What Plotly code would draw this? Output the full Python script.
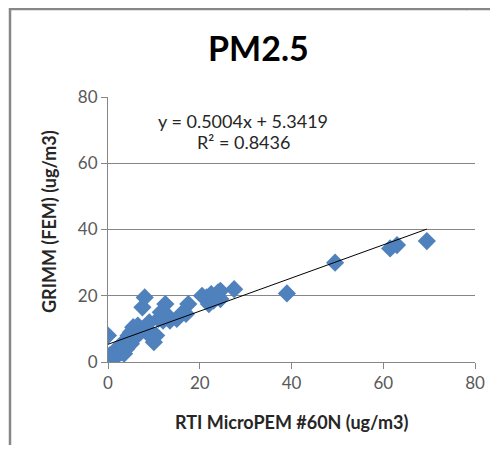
import plotly.graph_objects as go

# Data
micropem_x = [0.0, 0.3, 0.8, 1.2, 1.5, 2.0, 2.5, 3.0, 3.0, 3.5, 4.0, 4.0, 4.5, 5.0, 5.0,
              5.5, 6.0, 6.5, 7.0, 7.5, 8.0, 8.5, 9.0, 9.5, 10.0, 10.5, 11.0, 11.5, 12.0,
              12.5, 13.0, 13.5, 15.0, 16.0, 17.5, 17.0, 20.5, 21.5, 22.0, 22.5, 23.0,
              24.0, 24.5, 24.5, 27.5, 39.0, 49.5, 61.5, 63.0, 69.5]
grimm_y = [8.0, 2.0, 1.5, 3.0, 1.2, 2.5, 4.0, 3.0, 5.5, 2.5, 6.5, 4.0, 8.0, 5.5, 9.0,
           10.5, 7.5, 11.0, 9.0, 16.5, 19.5, 10.0, 12.0, 7.5, 6.0, 8.0, 13.0, 15.0, 12.5,
           17.5, 14.0, 12.5, 13.0, 14.5, 17.5, 14.5, 20.0, 19.5, 17.5, 20.5, 18.5,
           21.0, 21.5, 19.0, 22.0, 20.7, 30.0, 34.3, 35.3, 36.5]
fit_slope = 0.5004
fit_intercept = 5.3419
fit_r2 = 0.8436
tick_vals = [0, 20, 40, 60, 80]

# page body has an 8px margin, so the figure is drawn 8px right and down
OFF = 8
W, H = 499 - 2 * OFF, 453 - 2 * OFF
# target plot area in page pixels: x 108..475, y 97..362
ML = 108 - OFF
MR = W + OFF - 475
MT = 97 - OFF
MB = H + OFF - 362
PW, PH = W - ML - MR, H - MT - MB

FONT = "Lato"
fig = go.Figure()
fig.add_trace(go.Scatter(
    x=micropem_x, y=grimm_y, mode="markers",
    marker=dict(symbol="diamond", size=14, color="#4F81BD", line=dict(width=0)),
    showlegend=False))

x_lo, x_hi = min(micropem_x), max(micropem_x)
fig.add_trace(go.Scatter(
    x=[x_lo, x_hi], y=[fit_slope * x_lo + fit_intercept, fit_slope * x_hi + fit_intercept],
    mode="lines", line=dict(color="black", width=1), showlegend=False))

axis_common = dict(range=[0, 80], tickvals=tick_vals, ticks="outside", ticklen=6,
                   tickcolor="#868686", showline=True, linecolor="#868686", linewidth=1,
                   tickfont=dict(family=FONT, size=17, color="#595959"), zeroline=False,
                   automargin=False)
fig.update_xaxes(**axis_common, showgrid=False)
fig.update_yaxes(**axis_common, showgrid=True, gridcolor="#868686", gridwidth=1)


def px_x(p):
    return (p - OFF - ML) / PW


def px_y(p):
    return (H - MB - (p - OFF)) / PH


def label(x, y, text, size, color="#262626", angle=0):
    fig.add_annotation(x=px_x(x), y=px_y(y), xref="paper", yref="paper",
                       xanchor="center", yanchor="middle", text=text, showarrow=False,
                       textangle=angle, font=dict(family=FONT, size=size, color=color))


label(258, 47, "<b>PM2.5</b>", 34, color="black")
label(243, 121, f"y = {fit_slope}x + {fit_intercept}", 18)
label(243, 142, f"R² = {fit_r2}", 18)
label(291, 422, "<b>RTI MicroPEM #60N (ug/m3)</b>", 18)
label(49, 222, "<b>GRIMM (FEM) (ug/m3)</b>", 18, angle=-90)

# chart frame: left edge and top edge, plus the light corner curl
frame_right = W + OFF - 1
fig.add_shape(type="path", xref="paper", yref="paper",
              path=(f"M {px_x(10)} {px_y(H + OFF)} L {px_x(10)} {px_y(9)} "
                    f"L {px_x(467)} {px_y(9)}"),
              line=dict(color="#878787", width=2.5))
fig.add_shape(type="path", xref="paper", yref="paper",
              path=(f"M {px_x(466)} {px_y(9)} L {px_x(482)} {px_y(OFF)} "
                    f"L {px_x(frame_right)} {px_y(OFF)} L {px_x(frame_right)} {px_y(9)} Z"),
              fillcolor="#D9D9D9", line=dict(width=0))
fig.add_shape(type="path", xref="paper", yref="paper",
              path=f"M {px_x(466)} {px_y(9)} L {px_x(frame_right)} {px_y(9)}",
              line=dict(color="#878787", width=2.5))

fig.update_layout(width=W, height=H, margin=dict(l=ML, r=MR, t=MT, b=MB),
                  plot_bgcolor="white", paper_bgcolor="white")
fig.write_html("out.html")
